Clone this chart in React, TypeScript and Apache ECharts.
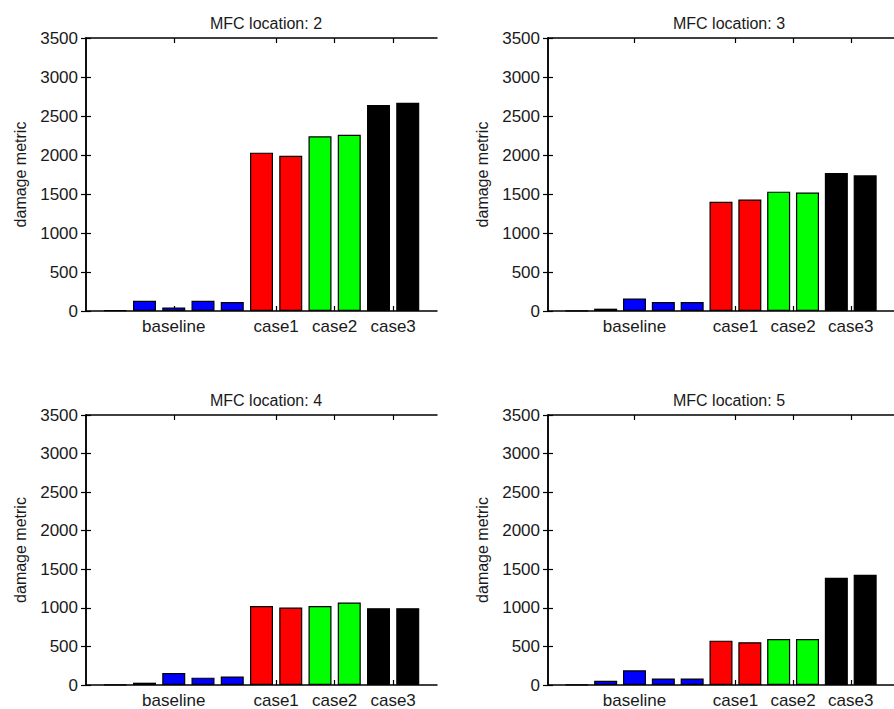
import React, { useEffect, useRef } from "react";
import * as echarts from "echarts";

const panelTitles = ["MFC location: 2", "MFC location: 3", "MFC location: 4", "MFC location: 5"];
const barPositions = [1, 2, 3, 4, 5, 6, 7, 8, 9, 10, 11];
const barGroups = ["baseline", "baseline", "baseline", "baseline", "baseline", "case1", "case1", "case2", "case2", "case3", "case3"];
const tickLabels = ["baseline", "case1", "case2", "case3"];
const tickValues = [3, 6.5, 8.5, 10.5];

const loc2 = [8, 130, 45, 130, 115, 2030, 1990, 2240, 2260, 2640, 2670];
const loc3 = [5, 30, 160, 115, 115, 1400, 1430, 1530, 1520, 1770, 1740];
const loc4 = [5, 30, 155, 95, 110, 1025, 1005, 1025, 1070, 995, 995];
const loc5 = [5, 55, 190, 85, 85, 575, 555, 595, 595, 1390, 1430];
const panelValues = [loc2, loc3, loc4, loc5];

const groupColors: Record<string, string> = {
  baseline: "#0000ff",
  case1: "#ff0000",
  case2: "#00ff00",
  case3: "#000000",
};

const FONT = "'Liberation Sans', Arial, Helvetica, sans-serif";
const TEXT = "#1a1a1a";
const FS = 17;

const grids = [
  { left: 86, top: 38, width: 351, height: 273 },
  { left: 548, top: 38, width: 352, height: 273 },
  { left: 86, top: 415, width: 351, height: 271 },
  { left: 548, top: 415, width: 352, height: 272 },
];
const titlePos = [
  { x: 261, y: 10 },
  { x: 724, y: 10 },
  { x: 261, y: 387 },
  { x: 724, y: 387 },
];

export default function App() {
  const ref = useRef<HTMLDivElement>(null);
  useEffect(() => {
    if (!ref.current) return;
    const chart = echarts.init(ref.current, undefined, { renderer: "svg" });
    const xAxes: any[] = [];
    const yAxes: any[] = [];
    const series: any[] = [];
    const titles: any[] = [];
    panelValues.forEach((vals, i) => {
      titles.push({
        text: panelTitles[i],
        left: titlePos[i].x,
        top: titlePos[i].y,
        textAlign: "center",
        textStyle: { fontFamily: FONT, fontSize: 16, fontWeight: "normal", color: TEXT },
      });
      const tickCfg = {
        show: true,
        inside: true,
        length: 5,
        customValues: tickValues,
        lineStyle: { color: "#000", width: 1.2 },
      };
      xAxes.push({
        type: "value",
        gridIndex: i,
        position: "bottom",
        min: 0,
        max: 12,
        axisLine: { show: true, onZero: false, lineStyle: { color: "#000", width: 1.5 } },
        axisTick: tickCfg,
        axisLabel: {
          show: true,
          customValues: tickValues,
          formatter: (v: number) => {
            const k = tickValues.indexOf(v);
            return k >= 0 ? tickLabels[k] : "";
          },
          fontFamily: FONT,
          fontSize: FS,
          color: TEXT,
          margin: 7,
        },
        splitLine: { show: false },
      });
      xAxes.push({
        type: "value",
        gridIndex: i,
        position: "top",
        min: 0,
        max: 12,
        axisLine: { show: true, onZero: false, lineStyle: { color: "#000", width: 1.5 } },
        axisTick: tickCfg,
        axisLabel: { show: false },
        splitLine: { show: false },
      });
      const yTickCfg = { show: true, inside: true, length: 5, lineStyle: { color: "#000", width: 1.2 } };
      yAxes.push({
        type: "value",
        gridIndex: i,
        position: "left",
        min: 0,
        max: 3500,
        interval: 500,
        name: "damage metric",
        nameLocation: "middle",
        nameGap: 58,
        nameTextStyle: { fontFamily: FONT, fontSize: 16, color: TEXT },
        axisLine: { show: true, lineStyle: { color: "#000", width: 1.5 } },
        axisTick: yTickCfg,
        axisLabel: {
          fontFamily: FONT,
          fontSize: FS,
          color: TEXT,
          margin: 8,
          formatter: (v: number) => String(v),
        },
        splitLine: { show: false },
      });
      yAxes.push({
        type: "value",
        gridIndex: i,
        position: "right",
        min: 0,
        max: 3500,
        interval: 500,
        axisLine: { show: true, lineStyle: { color: "#000", width: 1.5 } },
        axisTick: yTickCfg,
        axisLabel: { show: false },
        splitLine: { show: false },
      });
      series.push({
        type: "bar",
        xAxisIndex: 2 * i,
        yAxisIndex: 2 * i,
        barWidth: 23,
        data: vals.map((v, k) => ({
          value: [barPositions[k], v],
          itemStyle: {
            color: groupColors[barGroups[k]],
            borderColor: "#000",
            borderWidth: 1.2,
          },
        })),
      });
    });
    chart.setOption({
      animation: false,
      backgroundColor: "#ffffff",
      title: titles,
      grid: grids,
      xAxis: xAxes,
      yAxis: yAxes,
      series,
    });
    return () => chart.dispose();
  }, []);
  return (
    <div
      ref={ref}
      style={{ position: "fixed", left: 0, top: 0, width: 894, height: 709, background: "#fff" }}
    />
  );
}
